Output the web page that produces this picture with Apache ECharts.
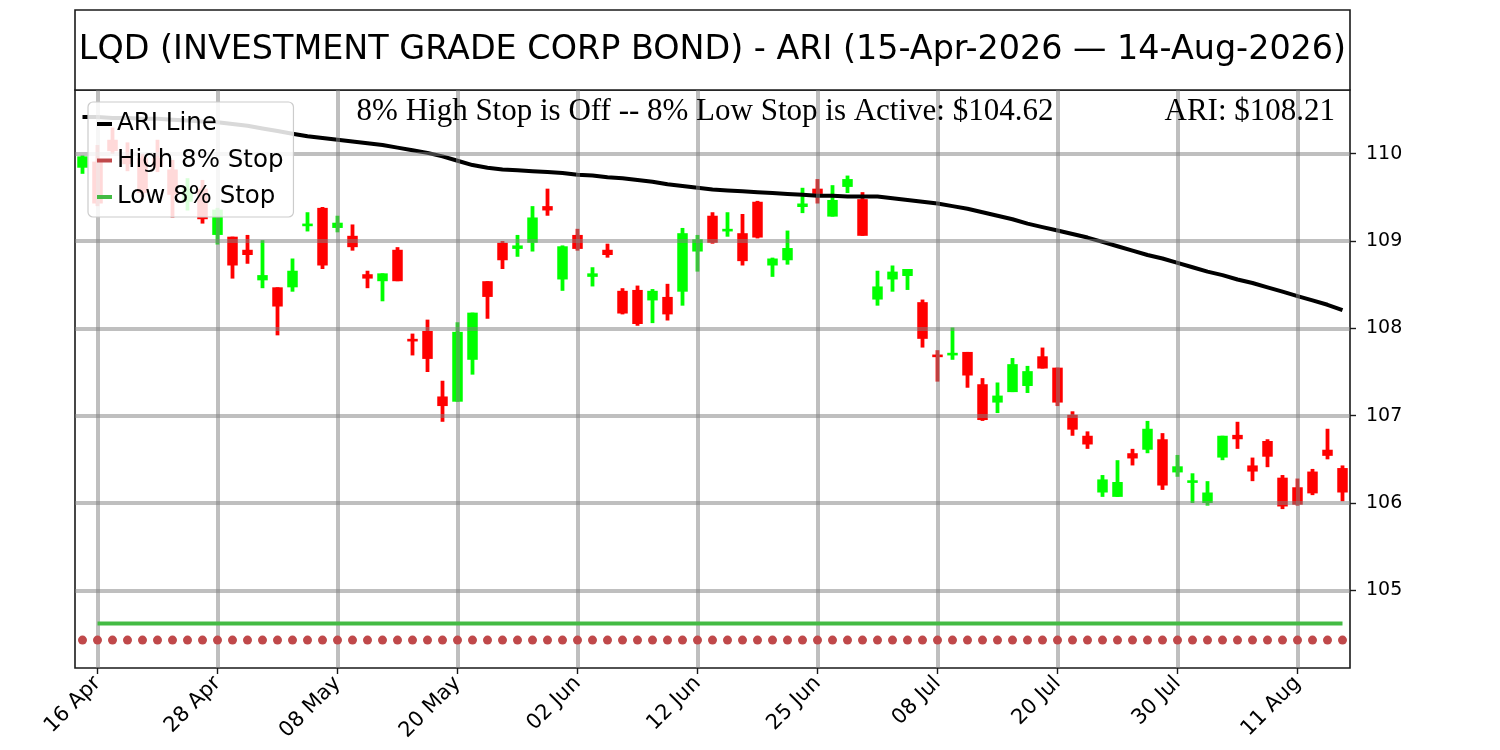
<!DOCTYPE html>
<html><head><meta charset="utf-8">
<script src="https://cdn.jsdelivr.net/npm/echarts@6/dist/echarts.min.js"></script>
<style>html,body{margin:0;padding:0;background:#fff}#c{width:1500px;height:750px}</style>
</head><body><div id="c"></div>
<script>
const dates = ['15 Apr','16 Apr','17 Apr','20 Apr','21 Apr','22 Apr','23 Apr','24 Apr','27 Apr','28 Apr','29 Apr','30 Apr',
 '01 May','04 May','05 May','06 May','07 May','08 May','11 May','12 May','13 May','14 May','15 May','18 May','19 May','20 May','21 May','22 May','26 May','27 May','28 May','29 May',
 '01 Jun','02 Jun','03 Jun','04 Jun','05 Jun','08 Jun','09 Jun','10 Jun','11 Jun','12 Jun','15 Jun','16 Jun','17 Jun','18 Jun','22 Jun','23 Jun','24 Jun','25 Jun','26 Jun','29 Jun','30 Jun',
 '01 Jul','02 Jul','06 Jul','07 Jul','08 Jul','09 Jul','10 Jul','13 Jul','14 Jul','15 Jul','16 Jul','17 Jul','20 Jul','21 Jul','22 Jul','23 Jul','24 Jul','27 Jul','28 Jul','29 Jul','30 Jul','31 Jul',
 '03 Aug','04 Aug','05 Aug','06 Aug','07 Aug','10 Aug','11 Aug','12 Aug','13 Aug','14 Aug'];
const openV = [109.84,109.91,110.16,109.95,109.95,109.95,109.82,109.45,109.60,109.07,109.05,108.90,108.55,108.47,108.47,109.17,109.38,109.15,109.06,108.62,108.54,108.90,
 107.88,107.97,107.22,107.16,107.64,108.54,108.98,108.91,108.98,109.40,108.56,109.07,108.59,108.90,108.43,108.44,108.32,108.36,108.42,108.88,
 109.29,109.11,109.09,109.45,108.72,108.78,109.39,109.60,109.28,109.62,109.48,108.33,108.56,108.60,108.30,107.70,107.69,107.73,107.36,107.15,107.27,
 107.34,107.68,107.55,107.01,106.77,106.12,106.07,106.57,106.61,106.73,106.35,106.23,106.00,106.52,106.78,106.43,106.71,106.29,106.18,106.36,106.61,106.40];
const closeV = [109.97,109.43,110.03,109.88,109.55,109.85,109.53,109.60,109.25,109.36,108.72,108.84,108.61,108.25,108.66,109.20,108.72,109.21,108.93,108.57,108.63,108.54,
 107.85,107.65,107.11,107.96,108.18,108.36,108.78,108.95,109.27,109.35,108.94,108.91,108.63,108.84,108.17,108.05,108.43,108.16,109.09,109.02,
 108.98,109.14,108.77,109.04,108.80,108.92,109.43,109.54,109.47,109.71,109.06,108.48,108.65,108.68,107.88,107.67,107.72,107.46,106.95,107.23,107.59,
 107.51,107.54,107.15,106.84,106.67,106.27,106.24,106.51,106.85,106.20,106.42,106.26,106.12,106.77,106.73,106.36,106.53,105.96,105.98,106.11,106.54,106.12];
const lowV = [109.77,109.40,110.00,109.80,109.50,109.79,109.27,109.35,109.20,108.96,108.57,108.74,108.46,107.92,108.42,109.11,108.68,109.10,108.89,108.46,108.31,108.54,
 107.69,107.50,106.93,107.16,107.47,108.11,108.68,108.82,108.88,109.29,108.43,108.89,108.48,108.81,108.16,108.03,108.06,108.09,108.26,108.65,
 108.97,109.05,108.72,109.03,108.59,108.73,109.32,109.43,109.28,109.55,109.06,108.26,108.42,108.44,107.78,107.39,107.64,107.32,106.94,107.03,107.27,
 107.26,107.54,107.11,106.77,106.62,106.07,106.07,106.43,106.57,106.15,106.30,106.00,105.97,106.49,106.62,106.25,106.41,105.93,105.97,106.09,106.50,106.02];
const highV = [109.98,110.10,110.30,110.13,110.00,110.16,109.93,109.72,109.70,109.38,109.05,109.07,109.01,108.47,108.80,109.33,109.39,109.29,109.19,108.66,108.63,108.93,
 107.94,108.10,107.40,108.07,108.18,108.54,109.00,109.07,109.40,109.60,108.95,109.14,108.70,108.97,108.46,108.49,108.45,108.51,109.15,109.07,
 109.33,109.33,109.31,109.46,108.81,109.12,109.61,109.71,109.64,109.75,109.56,108.66,108.72,108.68,108.33,107.75,108.01,107.73,107.43,107.38,107.66,
 107.57,107.78,107.55,107.05,106.82,106.32,106.49,106.62,106.94,106.80,106.55,106.34,106.25,106.77,106.93,106.52,106.73,106.32,106.28,106.39,106.85,106.43];
const ariLine = [110.42,110.42,110.41,110.41,110.40,110.40,110.39,110.38,110.37,110.36,110.34,110.32,110.29,110.26,110.23,110.20,110.18,110.16,110.14,110.12,110.10,110.07,
 110.04,110.01,109.97,109.92,109.87,109.84,109.82,109.81,109.80,109.79,109.78,109.76,109.75,109.73,109.72,109.70,109.68,109.65,109.63,109.61,
 109.59,109.58,109.57,109.56,109.55,109.54,109.53,109.52,109.52,109.51,109.51,109.51,109.49,109.47,109.45,109.43,109.40,109.37,109.33,109.29,109.25,
 109.20,109.16,109.12,109.08,109.04,108.99,108.94,108.89,108.84,108.80,108.75,108.70,108.65,108.61,108.56,108.52,108.47,108.42,108.37,108.32,108.27,108.21];
const highStop = [104.43,104.43,104.43,104.43,104.43,104.43,104.43,104.43,104.43,104.43,104.43,104.43,104.43,104.43,104.43,104.43,104.43,104.43,104.43,104.43,104.43,104.43,
 104.43,104.43,104.43,104.43,104.43,104.43,104.43,104.43,104.43,104.43,104.43,104.43,104.43,104.43,104.43,104.43,104.43,104.43,104.43,104.43,
 104.43,104.43,104.43,104.43,104.43,104.43,104.43,104.43,104.43,104.43,104.43,104.43,104.43,104.43,104.43,104.43,104.43,104.43,104.43,104.43,104.43,
 104.43,104.43,104.43,104.43,104.43,104.43,104.43,104.43,104.43,104.43,104.43,104.43,104.43,104.43,104.43,104.43,104.43,104.43,104.43,104.43,104.43,104.43];
const lowStop = [null,104.62,104.62,104.62,104.62,104.62,104.62,104.62,104.62,104.62,104.62,104.62,104.62,104.62,104.62,104.62,104.62,104.62,104.62,104.62,104.62,104.62,
 104.62,104.62,104.62,104.62,104.62,104.62,104.62,104.62,104.62,104.62,104.62,104.62,104.62,104.62,104.62,104.62,104.62,104.62,104.62,104.62,
 104.62,104.62,104.62,104.62,104.62,104.62,104.62,104.62,104.62,104.62,104.62,104.62,104.62,104.62,104.62,104.62,104.62,104.62,104.62,104.62,104.62,
 104.62,104.62,104.62,104.62,104.62,104.62,104.62,104.62,104.62,104.62,104.62,104.62,104.62,104.62,104.62,104.62,104.62,104.62,104.62,104.62,104.62,104.62];
const xTickLabels = ['16 Apr','28 Apr','08 May','20 May','02 Jun','12 Jun','25 Jun','08 Jul','20 Jul','30 Jul','11 Aug'];
const yTickValues = [105,106,107,108,109,110];
const titleText = 'LQD (INVESTMENT GRADE CORP BOND) - ARI (15-Apr-2026 \u2014 14-Aug-2026)';
const stopText = '8% High Stop is Off -- 8% Low Stop is Active: $' + lowStop[lowStop.length-1].toFixed(2);
const ariText = 'ARI: $' + ariLine[ariLine.length-1].toFixed(2);

const candleData = dates.map((d,i)=>[i, openV[i], closeV[i], lowV[i], highV[i]]);
const showTick = (i, v) => xTickLabels.indexOf(v) >= 0;

function renderCandle(params, api){
  const x = api.value(0), o = api.value(1), c = api.value(2), l = api.value(3), h = api.value(4);
  const pO = api.coord([x,o]), pC = api.coord([x,c]), pL = api.coord([x,l]), pH = api.coord([x,h]);
  const color = c >= o ? '#00ff00' : '#ff0000';
  const w = api.size([1,0])[0] * 0.7;
  const top = Math.min(pO[1], pC[1]), bot = Math.max(pO[1], pC[1]);
  return {type:'group', children:[
    {type:'line', shape:{x1:pH[0], y1:pH[1], x2:pL[0], y2:pL[1]}, style:{stroke:color, lineWidth:3.8}},
    {type:'rect', shape:{x:pO[0]-w/2, y:top, width:w, height:Math.max(bot-top, 2)}, style:{fill:color}}
  ]};
}

const chart = echarts.init(document.getElementById('c'), null, {renderer:'canvas'});
chart.setOption({
  animation:false,
  backgroundColor:'#ffffff',
  grid:{left:75, right:150, top:90, bottom:82, show:true, borderColor:'#1a1a1a', borderWidth:1.6, backgroundColor:'transparent'},
  xAxis:{type:'category', data:dates, boundaryGap:true,
    axisLine:{show:false},
    axisTick:{show:true, alignWithLabel:true, interval:showTick, length:6, lineStyle:{color:'#1a1a1a', width:1.4}},
    axisLabel:{interval:showTick, rotate:45, fontSize:21, color:'#000', margin:12, fontFamily:'DejaVu Sans'},
    splitLine:{show:false}},
  yAxis:{type:'value', position:'right', min:104.11, max:110.73,
    axisLine:{show:false},
    axisTick:{show:true, customValues:yTickValues, length:6, lineStyle:{color:'#1a1a1a', width:1.4}},
    axisLabel:{customValues:yTickValues, fontSize:19, color:'#000', margin:16, fontFamily:'DejaVu Sans'},
    splitLine:{show:false}},
  legend:{left:88, top:102, orient:'vertical', selectedMode:false, z:10,
    data:[{name:'ARI Line', icon:'rect'},{name:'High 8% Stop', icon:'rect'},{name:'Low 8% Stop', icon:'rect'}],
    itemWidth:15, itemHeight:4, itemGap:10.5,
    textStyle:{fontSize:24.5, fontFamily:'DejaVu Sans', color:'#000', lineHeight:26},
    backgroundColor:'rgba(255,255,255,0.85)', borderColor:'#cccccc', borderWidth:1.2, borderRadius:5, padding:[9,10,7,9]},
  graphic:[
    {type:'rect', z:5, shape:{x:75, y:10, width:1275, height:80}, style:{fill:'#fff', stroke:'#1a1a1a', lineWidth:1.6}},
    {type:'text', z:6, x:712.5, y:50, style:{text:titleText, fontSize:33.4, fontFamily:'DejaVu Sans', fill:'#000', align:'center', verticalAlign:'middle'}},
    {type:'text', z:6, x:705, y:112, style:{text:stopText, fontSize:31, fontFamily:'Liberation Serif', fill:'#000', align:'center', verticalAlign:'middle'}},
    {type:'text', z:6, x:1335, y:112, style:{text:ariText, fontSize:31, fontFamily:'Liberation Serif', fill:'#000', align:'right', verticalAlign:'middle'}}
  ],
  series:[
    {type:'custom', name:'candles', renderItem:renderCandle, data:candleData, encode:{x:0, y:[1,2,3,4]}, z:2, silent:true},
    {type:'line', name:'gridlines', data:[], z:3, silent:true,
      markLine:{silent:true, symbol:['none','none'], label:{show:false}, emphasis:{disabled:true},
        lineStyle:{color:'rgba(128,128,128,0.5)', width:4, type:'solid'},
        data:[...xTickLabels.map(d=>({xAxis:d})), ...yTickValues.map(v=>({yAxis:v}))]}},
    {type:'line', name:'ARI Line', data:ariLine, color:'#000', lineStyle:{width:4, color:'#000'}, symbol:'none', z:4, silent:true},
    {type:'scatter', name:'High 8% Stop', data:highStop, symbolSize:9, itemStyle:{color:'#c0484a', opacity:1}, z:5, silent:true},
    {type:'line', name:'Low 8% Stop', data:lowStop, color:'#44bb44', lineStyle:{width:4, color:'#44bb44'}, symbol:'none', z:5, silent:true}
  ]
});
</script></body></html>
